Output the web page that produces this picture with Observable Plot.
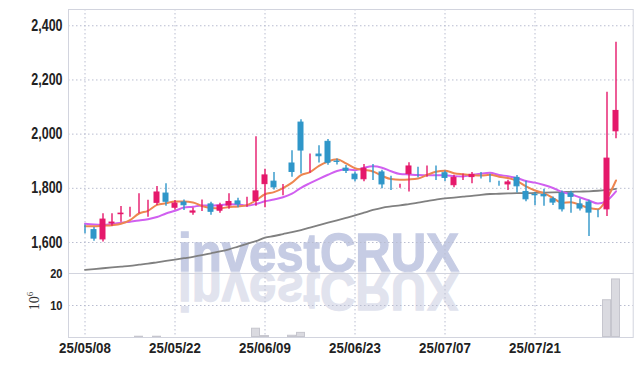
<!DOCTYPE html>
<html><head><meta charset="utf-8">
<script src="https://cdn.jsdelivr.net/npm/d3@7"></script>
<script src="https://cdn.jsdelivr.net/npm/@observablehq/plot@0.6"></script>
<style>
html,body{margin:0;padding:0;background:#fff;}
#wrap{position:relative;width:642px;height:366px;overflow:hidden;}
#wm{position:absolute;left:0;top:0;}
.layer{position:absolute;left:0;}
#unit{position:absolute;left:34px;top:301px;transform:translate(-50%,-50%) rotate(-90deg);font-family:"Liberation Serif","DejaVu Serif",serif;font-size:14px;color:#333;white-space:nowrap;}
#unit sup{font-size:9px;}
</style></head>
<body><div id="wrap">
<svg id="wm" width="642" height="366">
  <text x="178" y="271" textLength="281" lengthAdjust="spacingAndGlyphs" font-family="Liberation Sans, Arial, sans-serif" font-weight="bold" font-size="54" fill="#c6cce4" stroke="#c6cce4" stroke-width="1.3">investCRUX</text>
  <text x="178" y="271" textLength="281" lengthAdjust="spacingAndGlyphs" transform="translate(0,544) scale(1,-1)" font-family="Liberation Sans, Arial, sans-serif" font-weight="bold" font-size="54" fill="#e1e3ee" stroke="#e1e3ee" stroke-width="1.3">investCRUX</text>
</svg>
<div id="price" class="layer" style="top:0"></div>
<div id="vol" class="layer" style="top:273px"></div>
<div id="unit">10<sup>6</sup></div>
</div>
<script>
const dates = ["25/05/08","25/05/09","25/05/12","25/05/13","25/05/14","25/05/15","25/05/16","25/05/19","25/05/20","25/05/21",
"25/05/22","25/05/23","25/05/26","25/05/27","25/05/28","25/05/29","25/05/30","25/06/02","25/06/04","25/06/05",
"25/06/09","25/06/10","25/06/11","25/06/12","25/06/13","25/06/16","25/06/17","25/06/18","25/06/19","25/06/20",
"25/06/23","25/06/24","25/06/25","25/06/26","25/06/27","25/06/30","25/07/01","25/07/02","25/07/03","25/07/04",
"25/07/07","25/07/08","25/07/09","25/07/10","25/07/11","25/07/14","25/07/15","25/07/16","25/07/17","25/07/18",
"25/07/21","25/07/22","25/07/23","25/07/24","25/07/25","25/07/28","25/07/29","25/07/30","25/07/31","25/08/01"];
const open  = [1656,1653,1604,1663,1697,1711,1715,1727,1739,1788, 1721,1755,1703,1716,1748,1710,1729,1759,1737,1746,
               1808,1832,1798,1899,2050,1907,1932,1979,1906,1880, 1858,1826,1866,1866,1810,1803,1845,1877,1870,1863,
               1863,1804,1837,1834,1857,1851,1821,1807,1846,1794, 1783,1783,1767,1788,1788,1748,1755,1719,1715,2003];
const high  = [1665,1655,1706,1706,1733,1730,1780,1756,1807,1817, 1755,1757,1727,1757,1749,1745,1780,1763,1767,1990,
               1870,1858,1814,1939,2053,1927,1957,1980,1908,1884, 1860,1888,1888,1867,1845,1815,1894,1878,1882,1882,
               1864,1848,1853,1858,1858,1852,1826,1830,1847,1826, 1785,1797,1768,1790,1789,1761,1756,1720,2155,2339];
const low   = [1632,1605,1602,1660,1675,1693,1706,1693,1737,1734, 1720,1718,1701,1714,1701,1708,1723,1728,1730,1734,
               1728,1794,1773,1841,1853,1856,1893,1885,1886,1855, 1824,1824,1829,1798,1792,1800,1786,1839,1841,1829,
               1825,1802,1829,1817,1834,1821,1808,1792,1783,1750, 1737,1734,1737,1713,1708,1716,1622,1691,1696,1983];
const close = [1652,1607,1692,1681,1714,1719,1729,1741,1792,1743, 1751,1730,1722,1727,1706,1743,1757,1733,1751,1796,
               1855,1796,1807,1853,1932,1914,1911,1887,1890,1857, 1826,1880,1859,1807,1800,1813,1888,1872,1874,1858,
               1831,1846,1851,1857,1850,1845,1810,1829,1800,1752, 1767,1763,1740,1715,1761,1718,1703,1716,1917,2093];
const ma5   = [1660,1660,1662,1664,1669,1683,1707,1717,1739,1745, 1751,1751,1748,1735,1727,1726,1731,1733,1738,1756,
               1778,1786,1801,1821,1849,1860,1883,1899,1907,1892, 1874,1868,1862,1846,1834,1832,1833,1836,1849,1861,
               1865,1856,1852,1849,1847,1850,1843,1838,1827,1807, 1792,1782,1764,1747,1749,1739,1727,1723,1763,1829];
const ma10  = [1669,1666,1665,1668,1673,1677,1681,1686,1694,1707, 1717,1729,1732,1737,1736,1738,1741,1740,1736,1742,
               1752,1759,1767,1780,1802,1819,1835,1850,1864,1870, 1867,1876,1881,1876,1863,1853,1851,1849,1848,1848,
               1848,1845,1844,1849,1854,1857,1849,1845,1838,1827, 1821,1812,1801,1787,1778,1766,1755,1744,1755,1789];
const ma60  = [1499,1502,1505,1508,1511,1514,1518,1522,1527,1532, 1537,1542,1547,1553,1560,1567,1575,1585,1595,1605,
               1618,1624,1631,1638,1646,1655,1664,1673,1682,1691, 1700,1710,1720,1728,1733,1737,1742,1747,1753,1758,
               1763,1766,1769,1772,1776,1779,1780,1781,1782,1782, 1783,1784,1785,1786,1787,1788,1789,1791,1794,1798];
const volume = [0.2,0.15,0.2,0.15,0.15,0.15,0.4,0.15,0.4,0.15, 0.15,0.15,0.15,0.15,0.15,0.15,0.15,0.15,0.15,2.9,
                0.6,0.3,0.15,0.7,1.6,0.3,0.15,0.3,0.15,0.15, 0.15,0.15,0.15,0.15,0.15,0.15,0.15,0.15,0.15,0.15,
                0.15,0.15,0.15,0.15,0.15,0.15,0.15,0.15,0.15,0.15, 0.15,0.15,0.15,0.15,0.15,0.15,0.15,0.15,11.8,18.3];
const priceTicks = [1600,1800,2000,2200,2400];
const volTicks = [10,20];
const dateTicks = ["25/05/08","25/05/22","25/06/09","25/06/23","25/07/07","25/07/21"];

const rows = dates.map((d,i)=>({date:d, open:open[i], high:high[i], low:low[i], close:close[i],
  ma5:ma5[i], ma10:ma10[i], ma60:ma60[i], vol:volume[i], up: close[i] >= open[i]}));

const RED = "#e5186b", BLUE = "#2f96c9", GRID = "#b9bdd0", FRAME = "#d2d4de";
const font = "'Liberation Sans',Arial,sans-serif";
const color = d => d.up ? RED : BLUE;
const fmt = d3.format(",");

const price = Plot.plot({
  width: 642, height: 273,
  marginLeft: 68, marginRight: 9.3, marginTop: 9, marginBottom: 0,
  style: {background: "transparent", fontFamily: font, fontSize: "16px", fontWeight: "bold", color: "#222", overflow: "visible"},
  x: {type: "band", domain: dates, padding: 0, axis: null},
  y: {domain: [1485.6, 2460], ticks: priceTicks, tickFormat: d => fmt(d), tickSize: 0, tickPadding: 6, label: null},
  marks: [
    Plot.ruleY(priceTicks, {stroke: GRID, strokeDasharray: "1.5,2.5"}),
    Plot.ruleX(dateTicks, {stroke: GRID, strokeDasharray: "1.5,2.5"}),
    Plot.frame({stroke: FRAME}),
    Plot.line(rows, {x: "date", y: "ma60", stroke: "#808080", strokeWidth: 1.8, curve: "monotone-x"}),
    Plot.line(rows, {x: "date", y: "ma10", stroke: "#d05ff0", strokeWidth: 2, curve: "monotone-x"}),
    Plot.line(rows, {x: "date", y: "ma5", stroke: "#ee8650", strokeWidth: 2, curve: "monotone-x"}),
    Plot.ruleX(rows, {x: "date", y1: "low", y2: "high", stroke: color, strokeWidth: 1.4}),
    Plot.barY(rows, {x: "date", y1: "open", y2: "close", fill: color, stroke: color, strokeWidth: 1, inset: 2})
  ]
});
document.getElementById("price").appendChild(price);

const vol = Plot.plot({
  width: 642, height: 93,
  marginLeft: 68, marginRight: 9.3, marginTop: 0, marginBottom: 29,
  style: {background: "transparent", fontFamily: font, fontSize: "14px", fontWeight: "bold", color: "#222", overflow: "visible"},
  x: {type: "band", domain: dates, padding: 0, ticks: dateTicks, tickSize: 0, tickPadding: 6, label: null},
  y: {domain: [0, 20], ticks: volTicks, tickSize: 0, tickPadding: 6, label: null},
  marks: [
    Plot.ruleY(volTicks, {stroke: GRID, strokeDasharray: "1.5,2.5"}),
    Plot.ruleX(dateTicks, {stroke: GRID, strokeDasharray: "1.5,2.5"}),
    Plot.barY(rows, {x: "date", y: "vol", fill: "#dadae0", stroke: "#c6c6ce", strokeWidth: 1, inset: 0.5}),
    Plot.frame({stroke: FRAME})
  ]
});
document.getElementById("vol").appendChild(vol);

// narrow the tick labels (condensed look of the original)
function squeeze(svg, sel, factor, size) {
  svg.querySelectorAll(sel).forEach(t => {
    if (size) t.setAttribute("font-size", size);
    const L = t.getComputedTextLength();
    t.setAttribute("textLength", (L * factor).toFixed(1));
    t.setAttribute("lengthAdjust", "spacingAndGlyphs");
  });
}
squeeze(price, '[aria-label^="y-axis"] text', 0.78);
squeeze(vol, '[aria-label^="y-axis"] text', 0.85, "13px");
squeeze(vol, '[aria-label^="x-axis"] text', 0.95);
</script>
</body></html>
